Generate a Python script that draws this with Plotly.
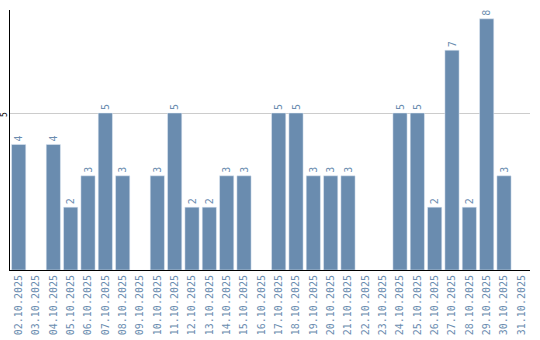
import plotly.graph_objects as go

dates = ["02.10.2025","03.10.2025","04.10.2025","05.10.2025","06.10.2025","07.10.2025",
         "08.10.2025","09.10.2025","10.10.2025","11.10.2025","12.10.2025","13.10.2025",
         "14.10.2025","15.10.2025","16.10.2025","17.10.2025","18.10.2025","19.10.2025",
         "20.10.2025","21.10.2025","22.10.2025","23.10.2025","24.10.2025","25.10.2025",
         "26.10.2025","27.10.2025","28.10.2025","29.10.2025","30.10.2025","31.10.2025"]
values = [4, None, 4, 2, 3, 5, 3, None, 3, 5, 2, 2, 3, 3, None, 5, 5, 3, 3, 3,
          None, None, 5, 5, 2, 7, 2, 8, 3, None]
labels = ["" if v is None else str(v) for v in values]
ytick_vals = [5]

color = "#6a8caf"
fig = go.Figure(go.Bar(
    x=dates, y=values, marker_color=color, text=labels,
    textposition="outside", textangle=-90, cliponaxis=False,
    textfont=dict(family="DejaVu Sans Mono", size=10, color=color),
))
for v in ytick_vals:
    fig.add_annotation(x=0, xref="paper", y=v, yref="y", text=str(v), showarrow=False,
                       textangle=-90, xanchor="center", yanchor="middle",
                       xshift=-6, yshift=-2, borderpad=0,
                       font=dict(family="DejaVu Sans Mono", size=8, color="black"))
fig.update_layout(
    width=540, height=340, margin=dict(l=10, r=10, t=10, b=70, autoexpand=False),
    paper_bgcolor="white", plot_bgcolor="white", bargap=0.18, showlegend=False,
    xaxis=dict(type="category", tickangle=-90, showline=True, linecolor="black",
               linewidth=1, showgrid=False, ticks="", automargin=False,
               tickfont=dict(family="DejaVu Sans Mono", size=10, color=color)),
    yaxis=dict(range=[0, 8.28], tickvals=ytick_vals, showticklabels=False, showline=True,
               linecolor="black", linewidth=1, showgrid=True, gridcolor="#cccccc",
               zeroline=False, ticks="", automargin=False),
)
fig.write_html("out.html")
